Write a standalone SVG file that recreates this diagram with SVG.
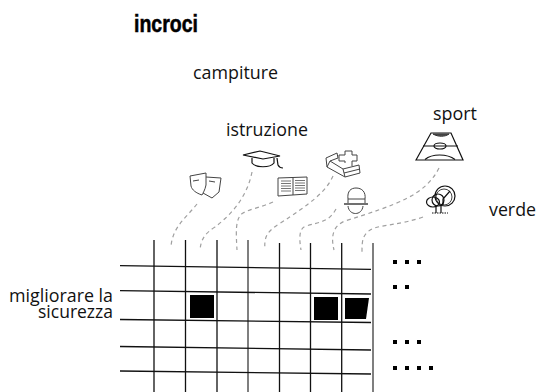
<svg xmlns="http://www.w3.org/2000/svg" width="536" height="392" viewBox="0 0 536 392">
<style>
text{font-family:"Open Sans","Noto Sans",sans-serif;font-size:17.500px;fill:#111}
.t{font-family:"Liberation Sans",sans-serif;font-weight:700;font-size:23px;fill:#000;stroke:#000;stroke-width:.5}
.d{fill:none;stroke:#a0a0a0;stroke-width:1.200;stroke-dasharray:4 3.500}
.v{stroke:#111;stroke-width:1.300}
.vg{stroke:#555;stroke-width:1.500}
.h{stroke:#111;stroke-width:1.300}
.i{fill:none;stroke:#444;stroke-width:1}
.ik{fill:none;stroke:#111;stroke-width:1.200}
.l{fill:none;stroke:#666;stroke-width:.9}
.b{fill:#000}
</style>
<text class="t" x="134" y="32" textLength="64" lengthAdjust="spacingAndGlyphs">incroci</text>
<text x="193" y="79" textLength="85" lengthAdjust="spacingAndGlyphs">campiture</text>
<text x="226" y="136" textLength="82" lengthAdjust="spacingAndGlyphs">istruzione</text>
<text x="433" y="120" textLength="44" lengthAdjust="spacingAndGlyphs">sport</text>
<text x="489" y="216" textLength="47" lengthAdjust="spacingAndGlyphs">verde</text>
<text x="9" y="302" textLength="104" lengthAdjust="spacingAndGlyphs">migliorare la</text>
<text x="38" y="318" textLength="75" lengthAdjust="spacingAndGlyphs">sicurezza</text>
<g id="connectors">
<path class="d" d="M197 204C187 217 173 226 171 246"/>
<path class="d" d="M252 172C247 197 232 214 215 227C204 234 201 240 200 250"/>
<path class="d" d="M273 202C262 207 250 209 243 213C235 218 236 232 237 250"/>
<path class="d" d="M333 176C326 192 310 204 279 224C266 232 264 238 265 250"/>
<path class="d" d="M336 209C329 222 320 222 306 226C299 228 299 238 301 250"/>
<path class="d" d="M439 168C425 196 395 205 345 221C332 226 331 238 334 250"/>
<path class="d" d="M423 217C400 225 380 225 372 229C362 234 362 242 362 252"/>
</g>
<g id="grid">
<path class="v" d="M154 240V392M185.500 240V392M217 240V392M279.500 243V392M310.500 243V392M341.700 243V392"/>
<path class="vg" d="M248 240V392M373 243V392"/>
<path class="h" d="M120 265.700L371 269.300M120 290.700L371 294M120 319.500L371 322.500M120 346.500L371 350M120 371L371 374"/>
</g>
<g id="cell-1"><rect class="b" x="190" y="295" width="24" height="23"/></g>
<g id="cell-2"><rect class="b" x="314" y="297" width="24" height="23"/></g>
<g id="cell-3"><path class="b" d="M345 298L369 298L366 319L345 319Z"/></g>
<g id="dots" fill="#000">
<rect x="393" y="260" width="4" height="4"/><rect x="405" y="260" width="4" height="4"/><rect x="417" y="260" width="4" height="4"/>
<rect x="393" y="285" width="4" height="4"/><rect x="405" y="285" width="4" height="4"/>
<rect x="393" y="340" width="4" height="4"/><rect x="405" y="340" width="4" height="4"/><rect x="417" y="340" width="4" height="4"/>
<rect x="393" y="366" width="4" height="4"/><rect x="405" y="366" width="4" height="4"/><rect x="417" y="366" width="4" height="4"/><rect x="429" y="366" width="4" height="4"/>
</g>
<g id="maschere">
<path class="i" d="M190 176L206 173L206 185C205 190 203 193 202 195C196 193 192 190 191 186Z"/>
<path class="i" d="M206 177L221 178L219 192L212 198L203 193"/>
<path class="i" d="M193 181L199 180M209 181L215 182"/>
</g>
<g id="tocco">
<path class="ik" d="M243 155L260 151L280 156L263 159Z"/>
<path class="ik" d="M252 158V163C256 168 270 168 274 163V158M277 158L278 165C279 167 281 168 283 168"/>
</g>
<g id="libro">
<path class="i" d="M278 178L307 177V194L278 196Z"/>
<path class="i" d="M293 178V195"/>
<path class="l" d="M281 181H291M281 183.500H291M281 186H291M281 188.500H291M281 191H291M295 180.500H305M295 183H305M295 185.500H305M295 188H305M295 190.500H305"/>
</g>
<g id="letto">
<path class="i" d="M326 158L337 153L338 158L330 161L327 167Z"/>
<path class="i" d="M330 161L343 169L359 165L360 173L345 177L343 169M327 167L345 177M344 173L360 169"/>
<path class="i" d="M345 163V161H339V155H345V151H352V155H357V161H352V166"/>
</g>
<g id="casco">
<path class="i" d="M348 199C347 191 351 188 356 188C362 188 366 192 365 199H348Z"/>
<path class="i" d="M348 199V203M365 199V203"/>
<path class="ik" d="M344 204H368"/>
<path class="i" d="M348 206C349 216 362 216 363 206"/>
</g>
<g id="campo">
<path class="ik" d="M416 160L431 133H451L463 160Z"/>
<path class="ik" d="M423 146H458"/>
<path d="M433 134C438 137 445 137 449 134Z" fill="#555" stroke="#333"/>
<ellipse class="ik" cx="440" cy="146" rx="6" ry="3"/>
<path class="ik" d="M425 159.500C432 153.500 447 153.500 455 159.500"/>
</g>
<g id="albero">
<circle class="ik" cx="445" cy="196" r="10"/>
<circle class="i" cx="444" cy="197" r="8"/>
<ellipse class="ik" cx="433" cy="202" rx="6.500" ry="5"/>
<circle class="ik" cx="438" cy="200" r="6"/>
<path class="ik" d="M436 206V213M441 205V213M450 191L443 199V205"/>
<path class="ik" stroke-dasharray="1.500 1" d="M432 213H448"/>
</g>
</svg>
